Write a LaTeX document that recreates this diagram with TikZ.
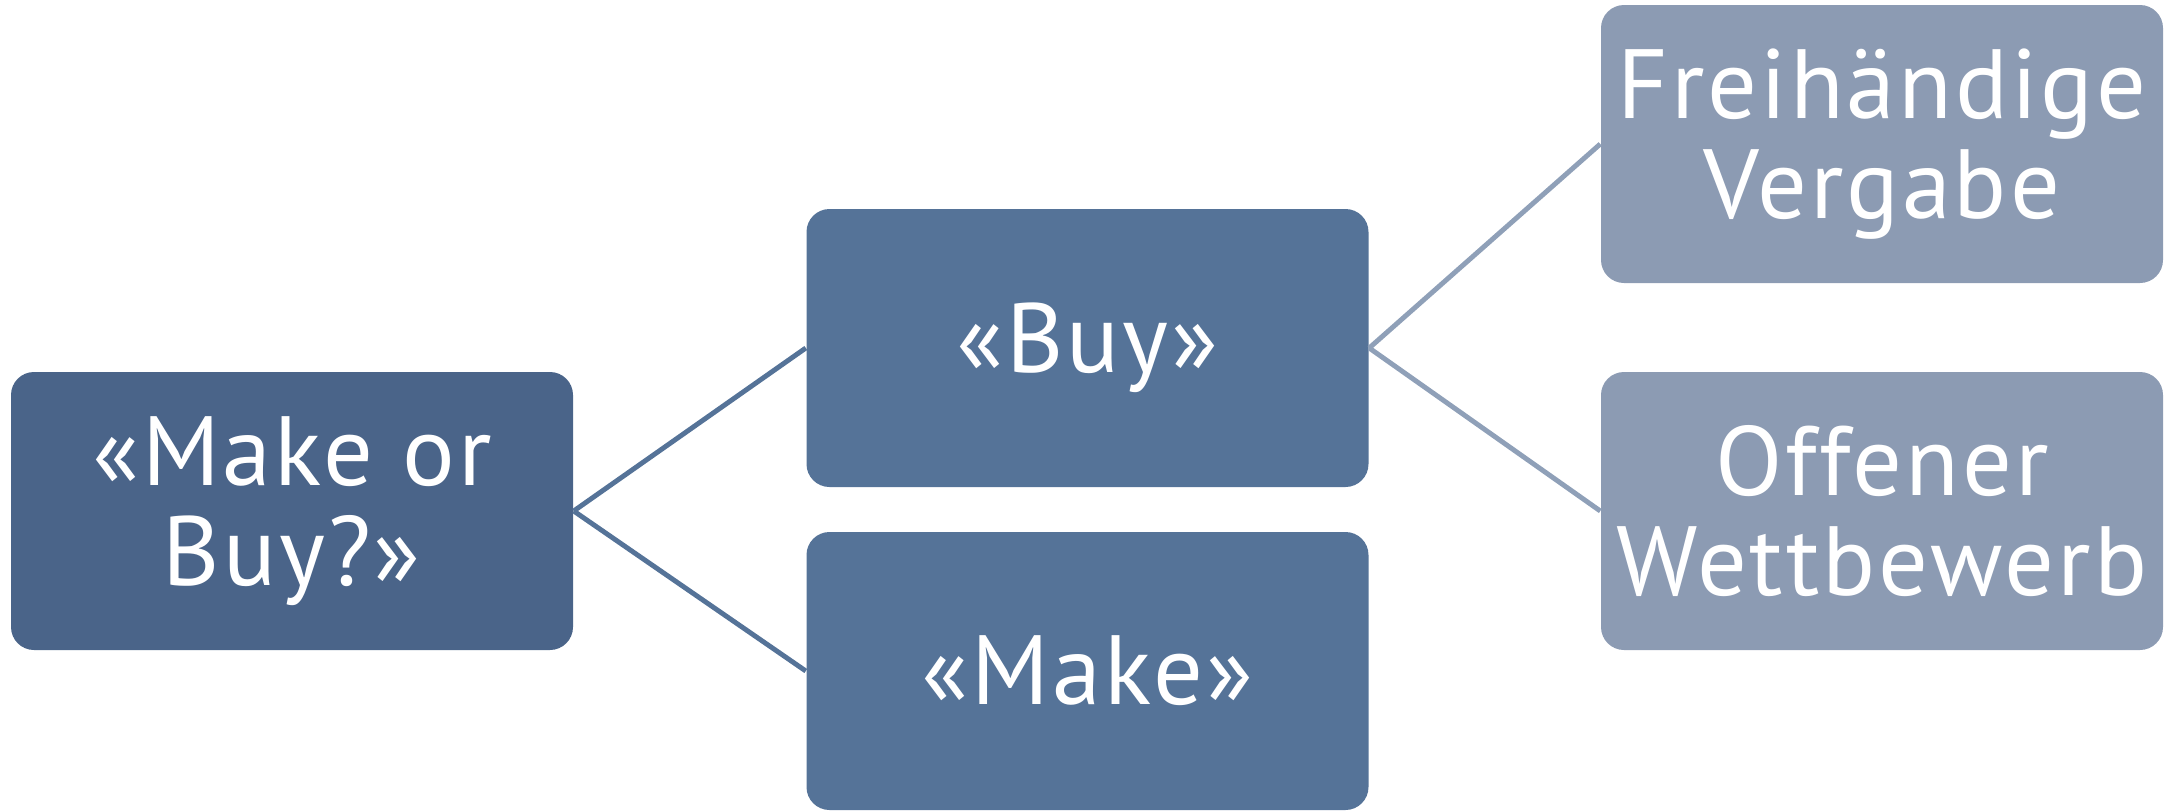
\documentclass[tikz,border=0pt]{standalone}
\usepackage{fontspec}
\setmainfont[LetterSpace=3]{PT Sans}
\usepackage{tikz}
\usetikzlibrary{positioning}
\usepackage{xcolor}
\definecolor{rootblue}{RGB}{74,100,137}
\definecolor{levelblue}{RGB}{85,115,152}
\definecolor{leafblue}{RGB}{140,155,179}
\definecolor{leafline}{RGB}{143,160,184}
\tikzset{
    choice/.style={rectangle, rounded corners=0.23cm, draw=none, text=white, minimum width=5.62cm, minimum height=2.78cm, align=center, inner sep=0pt, font=\fontsize{28}{28.5}\selectfont},
    rootbox/.style={choice, fill=rootblue},
    levelbox/.style={choice, fill=levelblue},
    leafbox/.style={choice, fill=leafblue},
    branch/.style={line width=1.4pt, color=levelblue},
    leafbranch/.style={line width=1.4pt, color=leafline}
}

\begin{document}
\begin{tikzpicture}
    \useasboundingbox (0,0) rectangle (21.64,8.10);

    % Decision and its two options
    \node[rootbox] (mob) at (2.92,2.99) {«Make or\\Buy?»};
    \node[levelbox] (buy) at (10.875,4.62) {«Buy»};
    \node[levelbox] (make) at (10.875,1.39) {«Make»};

    % Procurement procedures
    \node[leafbox] (free) at (18.82,6.66) {Freihändige\\Vergabe};
    \node[leafbox] (open) at (18.82,2.99) {Offener\\Wettbewerb};

    % Connections
    \draw[branch] (mob.east) -- (buy.west);
    \draw[branch] (mob.east) -- (make.west);
    \draw[leafbranch] (buy.east) -- (free.west);
    \draw[leafbranch] (buy.east) -- (open.west);
\end{tikzpicture}
\end{document}
